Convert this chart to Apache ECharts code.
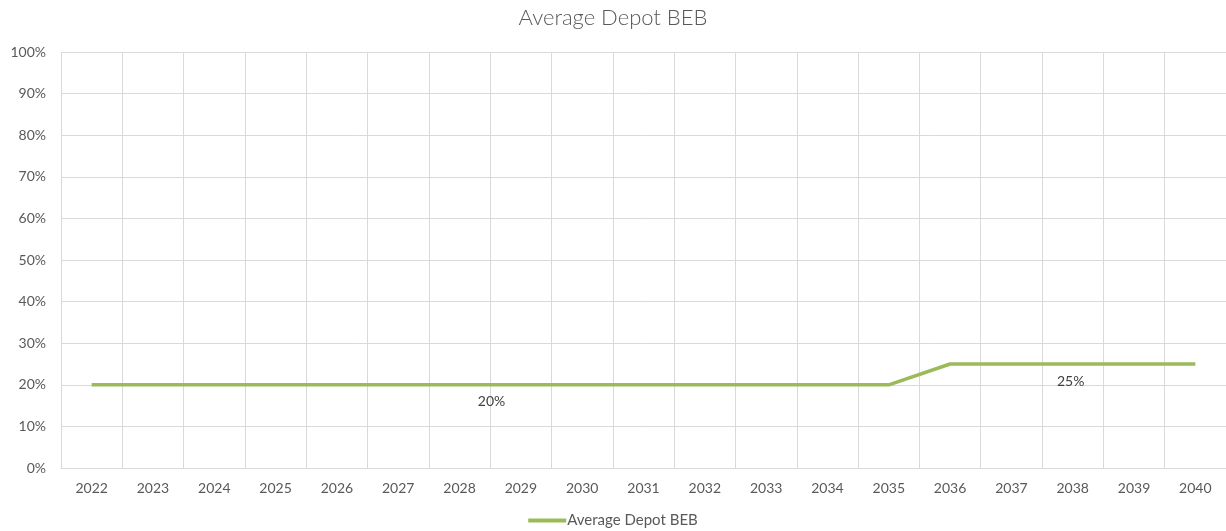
<!DOCTYPE html>
<html>
<head>
<meta charset="utf-8">
<script src="https://cdn.jsdelivr.net/npm/echarts@6/dist/echarts.min.js"></script>
<style>
  html, body { margin: 0; padding: 0; background: #fff; }
  #main { width: 1226px; height: 531px; }
</style>
</head>
<body>
<div id="main"></div>
<script>
var years = ['2022','2023','2024','2025','2026','2027','2028','2029','2030','2031','2032','2033','2034','2035','2036','2037','2038','2039','2040'];
var depotBEB = [20,20,20,20,20,20,20,20,20,20,20,20,20,20,25,25,25,25,25];
// which points carry a data label, and how far it is pushed sideways
var labelAt = { 6: 32, 16: -2 };

var textColor = '#595959';
var gridColor = '#d9d9d9';
var font = 'Lato, "Noto Sans", sans-serif';

var seriesData = depotBEB.map(function (v, i) {
    if (labelAt[i] === undefined) return v;
    return {
        value: v,
        label: {
            show: true,
            position: 'bottom',
            distance: 10,
            offset: [labelAt[i], 0],
            formatter: '{c}%',
            color: '#404040',
            fontSize: 14,
            fontFamily: font
        }
    };
});

var myChart = echarts.init(document.getElementById('main'));
var option = {
    animation: false,
    title: {
        text: 'Average Depot BEB',
        left: 'center',
        top: 2,
        textStyle: { color: textColor, fontSize: 22, fontWeight: 300, fontFamily: font }
    },
    legend: {
        bottom: -2,
        left: 'center',
        itemWidth: 38,
        itemHeight: 4,
        itemGap: 0,
        icon: 'rect',
        textStyle: { color: textColor, fontSize: 15, fontFamily: font, padding: [0, 0, 0, -4] },
        data: ['Average Depot BEB']
    },
    grid: { left: 61, right: 0, top: 52, bottom: 63 },
    xAxis: {
        type: 'category',
        data: years,
        boundaryGap: true,
        axisLine: { show: true, lineStyle: { color: gridColor, width: 1 } },
        axisTick: { show: false },
        axisLabel: { color: textColor, fontSize: 14, fontFamily: font, margin: 13 },
        splitLine: { show: true, lineStyle: { color: gridColor, width: 1 } }
    },
    yAxis: {
        type: 'value',
        min: 0,
        max: 100,
        interval: 10,
        axisLine: { show: false },
        axisTick: { show: false },
        axisLabel: { formatter: '{value}%', color: textColor, fontSize: 14, fontFamily: font, margin: 15 },
        splitLine: { show: true, lineStyle: { color: gridColor, width: 1 } }
    },
    series: [
        {
            name: 'Average Depot BEB',
            type: 'line',
            data: seriesData,
            symbol: 'circle',
            symbolSize: 0,
            showSymbol: true,
            lineStyle: { color: '#9BBB59', width: 3.5 },
            itemStyle: { color: '#9BBB59' }
        }
    ]
};
myChart.setOption(option);
</script>
</body>
</html>
